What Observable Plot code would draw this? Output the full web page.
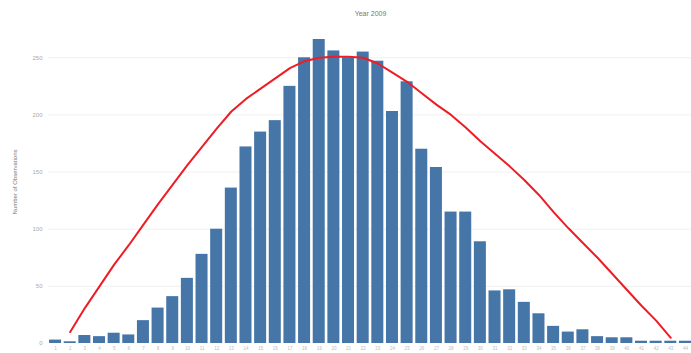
<!DOCTYPE html>
<html>
<head>
<meta charset="utf-8">
<script src="https://cdn.jsdelivr.net/npm/d3@7"></script>
<script src="https://cdn.jsdelivr.net/npm/@observablehq/plot@0.6"></script>
<style>
  html, body { margin: 0; padding: 0; background: #fff; }
  #wrap { width: 691px; height: 353px; position: relative; font-family: "Liberation Sans", Arial, sans-serif; }
  #title { height: 20px; box-sizing: border-box; padding-top: 9px; text-align: center; font-size: 7px; line-height: 10px; color: #777; padding-left: 50px; }
  #ylab { position: absolute; left: 15px; top: 182px; transform: translate(-50%, -50%) rotate(-90deg); font-size: 6px; color: #777; white-space: nowrap; }
</style>
</head>
<body>
<div id="wrap">
  <div id="title">Year 2009</div>
  <div id="ylab">Number of Observations</div>
  <div id="chart"></div>
</div>
<script>
const bins = d3.range(1, 45).map(String);
const counts = [3, 1.5, 7, 6, 9, 7.5, 20, 31, 41, 57, 78, 100, 136, 172, 185, 195, 225, 250, 266, 256, 250, 255, 247, 203, 229, 170, 154, 115, 115, 89, 46, 47, 36, 26, 15, 10, 12, 6, 5, 5, 2, 2, 2, 2];
const curve = [null, 10, 31, 50, 69, 86, 104, 122, 139, 156, 172, 188, 203, 214, 223, 232, 241, 247, 250, 251, 251, 250, 245, 237, 229, 219, 209, 200, 189, 177, 166, 155, 143, 130, 115, 101, 88, 75, 61, 47, 33, 20, 5, null];
const yTicks = [0, 50, 100, 150, 200, 250];

const barData = bins.map((b, i) => ({bin: b, count: counts[i]}));
const curveData = bins.map((b, i) => ({bin: b, v: curve[i]})).filter(d => d.v != null);

const chart = Plot.plot({
  width: 691,
  height: 333,
  marginTop: 3,
  marginBottom: 10,
  marginLeft: 48,
  marginRight: 0,
  style: {fontFamily: "Liberation Sans, Arial, sans-serif", fontSize: "5px", color: "#aaa", background: "#fff"},
  x: {domain: bins, range: [46.4, 693.6], padding: 0.18, round: false, label: null},
  y: {domain: [0, 280], label: null},
  marks: [
    Plot.ruleY(yTicks.filter(t => t > 0), {stroke: "#f0f0f0", strokeWidth: 1}),
    Plot.ruleX([0], {x: () => 48, stroke: "#f2f2f2"}),
    Plot.barY(barData, {x: "bin", y: "count", fill: "#4675a8"}),
    Plot.line(curveData, {x: "bin", y: "v", stroke: "#ee1c25", strokeWidth: 2}),
    Plot.axisY({ticks: yTicks, tickSize: 0, tickPadding: 6, fontSize: 6, fill: "#aaa", label: null}),
    Plot.axisX({tickSize: 0, tickPadding: 3, fontSize: 4.5, fill: "#bbb", label: null})
  ]
});
document.getElementById("chart").appendChild(chart);
</script>
</body>
</html>
